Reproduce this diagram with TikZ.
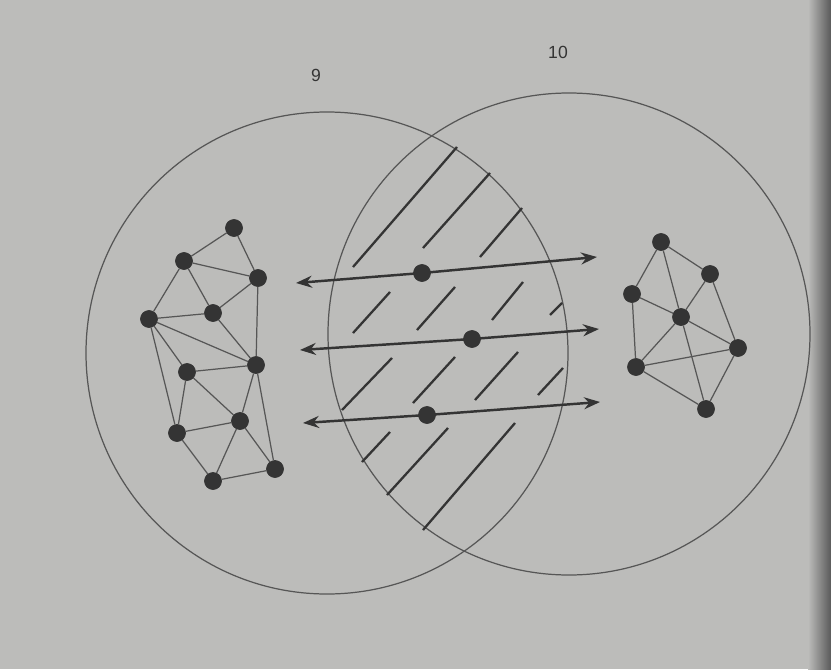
\documentclass[tikz,border=0pt]{standalone}
\usepackage{fontspec}
\setsansfont{Liberation Sans}
\usepackage{tikz}
\usetikzlibrary{arrows.meta,positioning}
\definecolor{paper}{RGB}{188,188,186}
\definecolor{ink}{RGB}{52,52,52}
\definecolor{pencil}{RGB}{86,86,86}

\begin{document}
\begin{tikzpicture}[x=0.2mm,y=-0.2mm,
  netdot/.style={circle,fill=ink,draw=ink,inner sep=0pt,minimum size=3.4mm},
  netedge/.style={draw=pencil,line width=0.7pt},
  setring/.style={draw=pencil,line width=0.7pt},
  hatch/.style={draw=ink,line width=1.3pt},
  passarrow/.style={draw=ink,line width=1.4pt,-{Stealth[length=3.2mm,width=2.4mm]}},
  setlabel/.style={font=\sffamily,text=ink}
]
  \fill[paper] (0,0) rectangle (831,669);
  \shade[left color=paper,right color=black!65] (808,0) rectangle (831,669);
  % Sets
  \draw[setring] (327,353) circle[radius=241];
  \draw[setring] (569,334) circle[radius=241];
  \node[setlabel] (lab9) at (316,75) {9};
  \node[setlabel] (lab10) at (558,52) {10};
  % Hatching of the overlap
  \draw[hatch] (353,267) -- (457,147);
  \draw[hatch] (423,248) -- (490,173);
  \draw[hatch] (480,257) -- (522,208);
  \draw[hatch] (353,333) -- (390,292);
  \draw[hatch] (417,330) -- (455,287);
  \draw[hatch] (492,320) -- (523,282);
  \draw[hatch] (550,315) -- (562,303);
  \draw[hatch] (342,410) -- (392,358);
  \draw[hatch] (413,403) -- (455,357);
  \draw[hatch] (475,400) -- (518,352);
  \draw[hatch] (538,395) -- (563,368);
  \draw[hatch] (362,462) -- (390,432);
  \draw[hatch] (387,495) -- (448,428);
  \draw[hatch] (423,530) -- (515,423);
  % Left network
  \node[netdot] (la) at (234,228) {};
  \node[netdot] (lb) at (184,261) {};
  \node[netdot] (lc) at (258,278) {};
  \node[netdot] (ld) at (149,319) {};
  \node[netdot] (le) at (213,313) {};
  \node[netdot] (lf) at (256,365) {};
  \node[netdot] (lg) at (187,372) {};
  \node[netdot] (lh) at (240,421) {};
  \node[netdot] (li) at (177,433) {};
  \node[netdot] (lj) at (275,469) {};
  \node[netdot] (lk) at (213,481) {};
  \foreach \s/\t in {la/lb,la/lc,lb/lc,lb/ld,lb/le,lc/le,lc/lf,ld/le,ld/lf,le/lf,
      ld/lg,ld/li,lg/lf,lg/lh,lg/li,lh/lf,lh/li,lh/lj,lh/lk,lf/lj,li/lk,lk/lj}
    \path[netedge] (\s) -- (\t);
  % Right network
  \node[netdot] (rp) at (661,242) {};
  \node[netdot] (rq) at (710,274) {};
  \node[netdot] (rr) at (632,294) {};
  \node[netdot] (rs) at (681,317) {};
  \node[netdot] (rt) at (738,348) {};
  \node[netdot] (ru) at (636,367) {};
  \node[netdot] (rv) at (706,409) {};
  \foreach \s/\t in {rp/rq,rp/rr,rp/rs,rq/rs,rq/rt,rr/rs,rr/ru,rs/rt,rs/ru,rs/rv,
      ru/rt,ru/rv,rt/rv}
    \path[netedge] (\s) -- (\t);
  % Shared elements
  \node[netdot] (m1) at (422,273) {};
  \node[netdot] (m2) at (472,339) {};
  \node[netdot] (m3) at (427,415) {};
  \coordinate (m1l) at (296,283);
  \coordinate (m1r) at (597,257);
  \coordinate (m2l) at (300,350);
  \coordinate (m2r) at (599,329);
  \coordinate (m3l) at (303,423);
  \coordinate (m3r) at (600,402);
  \foreach \m in {m1,m2,m3} {
    \path[passarrow] (\m.center) -- (\m l);
    \path[passarrow] (\m.center) -- (\m r);
  }
\end{tikzpicture}
\end{document}
